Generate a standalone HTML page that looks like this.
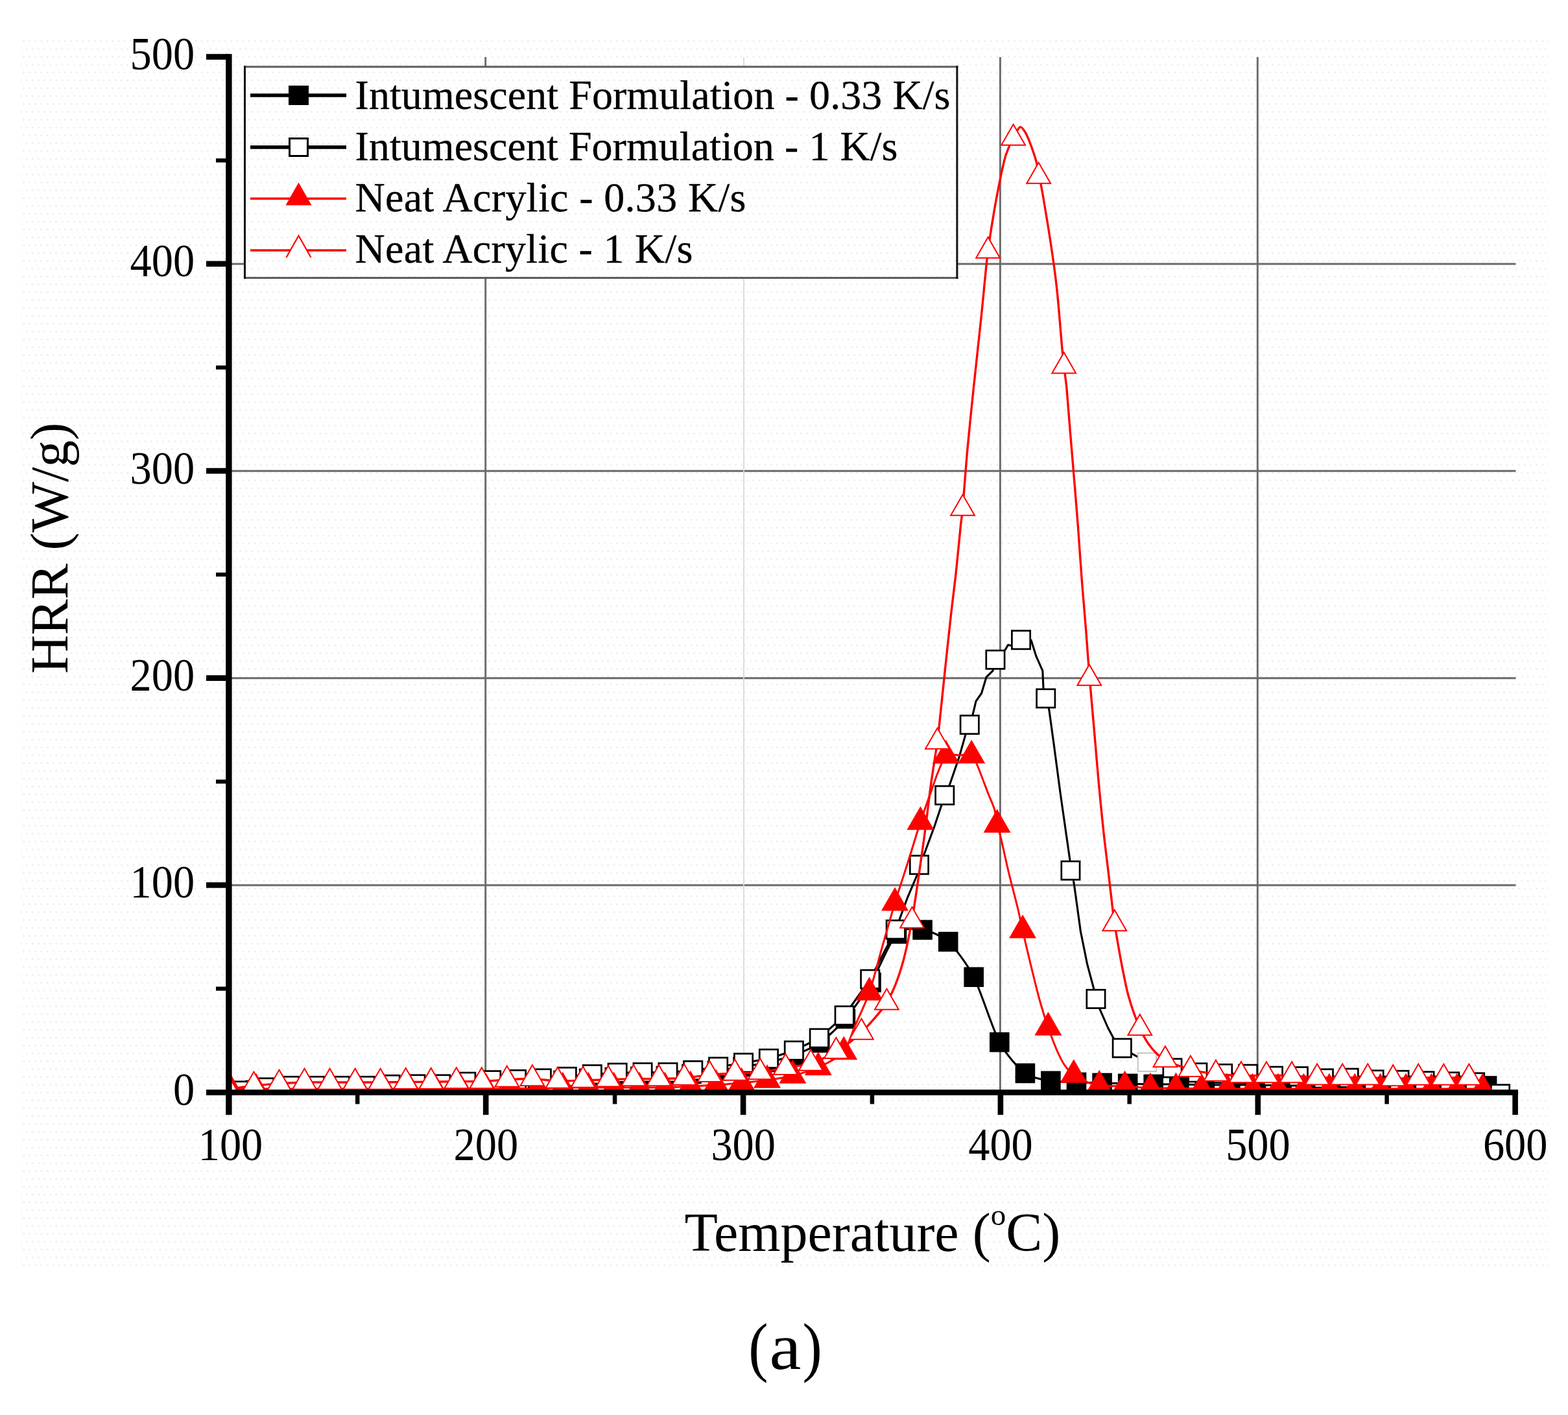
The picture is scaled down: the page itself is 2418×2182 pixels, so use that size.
<!DOCTYPE html>
<html lang="en"><head><meta charset="utf-8"><title>HRR vs Temperature (a)</title>
<style>html,body{margin:0;padding:0;background:#fff}body{width:2418px;height:2182px;overflow:hidden}svg{display:block}text{font-family:"Liberation Serif","DejaVu Serif",serif;fill:#000}</style></head><body>
<svg xmlns="http://www.w3.org/2000/svg" width="2418" height="2182" viewBox="0 0 2418 2182">
<defs>
<pattern id="dots" x="35" y="62" width="9.15" height="24.2" patternUnits="userSpaceOnUse"><rect x="0" y="0" width="3" height="3" fill="#f6efef"/><rect x="4.6" y="12.1" width="3" height="3" fill="#f6efef"/><rect x="2.2" y="6" width="3" height="3" fill="#f6fefe"/><rect x="6.8" y="18.1" width="3" height="3" fill="#f6fefe"/></pattern>
<clipPath id="plot"><rect x="349.5" y="60" width="1992" height="1625"/></clipPath>
</defs>
<rect x="0" y="0" width="2418" height="2182" fill="#ffffff"/>
<rect x="32" y="62" width="2356" height="1892" fill="url(#dots)"/>
<g stroke="#6a6a6a" stroke-width="2.9" fill="none">
<line x1="353" y1="1365" x2="2337.5" y2="1365"/>
<line x1="353" y1="1045.7" x2="2337.5" y2="1045.7"/>
<line x1="353" y1="726.3" x2="2337.5" y2="726.3"/>
<line x1="353" y1="407" x2="2337.5" y2="407"/>
<line x1="748.7" y1="88" x2="748.7" y2="1684"/>
<line x1="1542.4" y1="88" x2="1542.4" y2="1684"/>
<line x1="1939.3" y1="88" x2="1939.3" y2="1684"/>
</g>
<line x1="1147" y1="88" x2="1147" y2="1684" stroke="#d9d9e0" stroke-width="1.8"/>
<g clip-path="url(#plot)">
<g id="s1">
<path d="M354.2 1684C359.5 1683.6 383.2 1681.7 393.8 1681C404.3 1680.3 422.8 1679.3 433.3 1679C443.9 1678.7 462.4 1679 472.9 1679C483.5 1679 501.9 1679 512.5 1679C523 1679 541.5 1679.1 552 1679C562.6 1678.9 581.1 1678.3 591.6 1678C602.2 1677.7 620.6 1677.1 631.2 1677C641.7 1676.9 660.2 1677.3 670.8 1677C681.3 1676.7 699.8 1675.5 710.3 1675C720.9 1674.5 739.3 1673.5 749.9 1673C760.5 1672.5 778.9 1671.5 789.5 1671C800 1670.5 818.5 1669.7 829 1669C839.6 1668.3 858.1 1666.8 868.6 1666C879.2 1665.2 897.6 1663.7 908.2 1663C918.7 1662.3 937.2 1661.4 947.8 1661C958.3 1660.6 976.8 1660.3 987.3 1660C997.9 1659.7 1016.3 1659.5 1026.9 1659C1037.4 1658.5 1055.9 1657.1 1066.5 1656C1077 1654.9 1095.5 1652.5 1106 1651C1116.6 1649.5 1135 1646.7 1145.6 1645C1156.2 1643.3 1174.6 1640.4 1185.2 1638C1195.7 1635.6 1214.2 1631 1224.7 1627C1235.3 1623 1253.8 1615.5 1264.3 1608C1274.9 1600.5 1293.3 1583.4 1303.9 1571C1314.4 1558.6 1332.9 1532.5 1343.5 1515C1354 1497.5 1372.5 1450.8 1383 1440C1393.6 1429.2 1412 1432.3 1422.6 1433.9C1433.1 1435.5 1451.6 1442.5 1462.2 1452.2C1472.7 1461.9 1491.2 1486 1501.7 1506.7C1512.3 1527.4 1530.7 1587.3 1541.3 1607.1C1551.9 1626.9 1570.3 1647 1580.9 1655C1591.4 1663 1609.9 1665 1620.4 1666.9C1631 1668.8 1649.5 1668.6 1660 1669C1670.6 1669.4 1689 1669.7 1699.6 1670C1710.1 1670.3 1728.6 1670.7 1739.2 1671C1749.7 1671.3 1768.2 1671.9 1778.7 1672C1789.3 1672.1 1807.7 1671.9 1818.3 1672C1828.8 1672.1 1847.3 1672.9 1857.9 1673C1868.4 1673.1 1886.9 1673 1897.4 1673C1908 1673 1926.4 1672.9 1937 1673C1947.6 1673.1 1966 1673.9 1976.6 1674C1987.1 1674.1 2005.6 1674 2016.1 1674C2026.7 1674 2045.2 1674 2055.7 1674C2066.3 1674 2084.7 1674 2095.3 1674C2105.8 1674 2124.3 1674 2134.8 1674C2145.4 1674 2163.9 1674 2174.4 1674C2185 1674 2203.4 1674 2214 1674C2224.5 1674 2243 1673.9 2253.6 1674C2264.1 1674.1 2287.9 1674.4 2293.1 1674.5" fill="none" stroke="#000" stroke-width="3.1" stroke-linejoin="round"/>
<g fill="#000"><rect x="338.9" y="1668.7" width="30.6" height="30.6"/><rect x="378.5" y="1665.7" width="30.6" height="30.6"/><rect x="418" y="1663.7" width="30.6" height="30.6"/><rect x="457.6" y="1663.7" width="30.6" height="30.6"/><rect x="497.2" y="1663.7" width="30.6" height="30.6"/><rect x="536.8" y="1663.7" width="30.6" height="30.6"/><rect x="576.3" y="1662.7" width="30.6" height="30.6"/><rect x="615.9" y="1661.7" width="30.6" height="30.6"/><rect x="655.5" y="1661.7" width="30.6" height="30.6"/><rect x="695" y="1659.7" width="30.6" height="30.6"/><rect x="734.6" y="1657.7" width="30.6" height="30.6"/><rect x="774.2" y="1655.7" width="30.6" height="30.6"/><rect x="813.7" y="1653.7" width="30.6" height="30.6"/><rect x="853.3" y="1650.7" width="30.6" height="30.6"/><rect x="892.9" y="1647.7" width="30.6" height="30.6"/><rect x="932.5" y="1645.7" width="30.6" height="30.6"/><rect x="972" y="1644.7" width="30.6" height="30.6"/><rect x="1011.6" y="1643.7" width="30.6" height="30.6"/><rect x="1051.2" y="1640.7" width="30.6" height="30.6"/><rect x="1090.7" y="1635.7" width="30.6" height="30.6"/><rect x="1130.3" y="1629.7" width="30.6" height="30.6"/><rect x="1169.9" y="1622.7" width="30.6" height="30.6"/><rect x="1209.4" y="1611.7" width="30.6" height="30.6"/><rect x="1249" y="1592.7" width="30.6" height="30.6"/><rect x="1288.6" y="1555.7" width="30.6" height="30.6"/><rect x="1328.2" y="1499.7" width="30.6" height="30.6"/><rect x="1367.7" y="1424.7" width="30.6" height="30.6"/><rect x="1407.3" y="1418.6" width="30.6" height="30.6"/><rect x="1446.9" y="1436.9" width="30.6" height="30.6"/><rect x="1486.4" y="1491.4" width="30.6" height="30.6"/><rect x="1526" y="1591.8" width="30.6" height="30.6"/><rect x="1565.6" y="1639.7" width="30.6" height="30.6"/><rect x="1605.1" y="1651.6" width="30.6" height="30.6"/><rect x="1644.7" y="1653.7" width="30.6" height="30.6"/><rect x="1684.3" y="1654.7" width="30.6" height="30.6"/><rect x="1723.9" y="1655.7" width="30.6" height="30.6"/><rect x="1763.4" y="1656.7" width="30.6" height="30.6"/><rect x="1803" y="1656.7" width="30.6" height="30.6"/><rect x="1842.6" y="1657.7" width="30.6" height="30.6"/><rect x="1882.1" y="1657.7" width="30.6" height="30.6"/><rect x="1921.7" y="1657.7" width="30.6" height="30.6"/><rect x="1961.3" y="1658.7" width="30.6" height="30.6"/><rect x="2000.8" y="1658.7" width="30.6" height="30.6"/><rect x="2040.4" y="1658.7" width="30.6" height="30.6"/><rect x="2080" y="1658.7" width="30.6" height="30.6"/><rect x="2119.5" y="1658.7" width="30.6" height="30.6"/><rect x="2159.1" y="1658.7" width="30.6" height="30.6"/><rect x="2198.7" y="1658.7" width="30.6" height="30.6"/><rect x="2238.3" y="1658.7" width="30.6" height="30.6"/><rect x="2277.8" y="1659.2" width="30.6" height="30.6"/></g>
</g>
<g id="s2">
<path d="M368.6 1682L407.5 1677L446.4 1674.5L485.3 1674.5L524.2 1674.5L563.1 1674.5L602 1672.5L640.9 1672L679.8 1672L718.7 1668.3L757.6 1665.8L796.5 1664.6L835.4 1663L874.3 1660.5L913.2 1656.8L952.1 1654.3L991 1653.8L1029.9 1653.8L1068.8 1650.6L1107.7 1645.2L1146.6 1639L1185.5 1632.5L1224.4 1620.1L1263.3 1601L1302.2 1566L1341.8 1510.1L1381.3 1433.5L1399.6 1383.8L1414.4 1349L1417.4 1333.7L1424.4 1319.3L1441.7 1272.2L1451.6 1242.5L1456.8 1226.4L1464 1211.5L1478.9 1168.1L1488.8 1133.4L1495.3 1117.6L1500 1102.4L1505 1081.4L1513.6 1069L1521 1044.2L1531 1034.3L1535 1017.2L1549.5 1003L1554.5 994.6L1562 996L1574.6 986.7L1590 987L1597.9 1012L1607.8 1034.3L1609 1061.5L1612.8 1076.9L1617.7 1093.8L1625.2 1148.3L1635.1 1222.7L1645 1292L1650 1326.8L1656.5 1364.5L1666.4 1436.3L1676.4 1485.9L1686.3 1523L1690 1540.5L1696.2 1556.6L1708.6 1585L1717.3 1601.2L1730.3 1616.2L1769 1638L1807.9 1647L1846.8 1654L1885.7 1655.6L1924.6 1656.3L1963.5 1659.3L2002.4 1659.8L2041.3 1663L2080.2 1662.3L2119.1 1665L2158 1665.5L2196.9 1667L2235.8 1668L2274.7 1669L2313.6 1687" fill="none" stroke="#000" stroke-width="3.1" stroke-linejoin="round"/>
<g fill="#fff" stroke="#000" stroke-width="2.7"><rect x="354.5" y="1667.8" width="28.3" height="28.3"/><rect x="393.4" y="1662.8" width="28.3" height="28.3"/><rect x="432.3" y="1660.3" width="28.3" height="28.3"/><rect x="471.2" y="1660.3" width="28.3" height="28.3"/><rect x="510.1" y="1660.3" width="28.3" height="28.3"/><rect x="549" y="1660.3" width="28.3" height="28.3"/><rect x="587.9" y="1658.3" width="28.3" height="28.3"/><rect x="626.8" y="1657.8" width="28.3" height="28.3"/><rect x="665.6" y="1657.8" width="28.3" height="28.3"/><rect x="704.6" y="1654.1" width="28.3" height="28.3"/><rect x="743.5" y="1651.6" width="28.3" height="28.3"/><rect x="782.4" y="1650.4" width="28.3" height="28.3"/><rect x="821.2" y="1648.8" width="28.3" height="28.3"/><rect x="860.1" y="1646.3" width="28.3" height="28.3"/><rect x="899.1" y="1642.6" width="28.3" height="28.3"/><rect x="938" y="1640.1" width="28.3" height="28.3"/><rect x="976.9" y="1639.6" width="28.3" height="28.3"/><rect x="1015.8" y="1639.6" width="28.3" height="28.3"/><rect x="1054.6" y="1636.4" width="28.3" height="28.3"/><rect x="1093.5" y="1631" width="28.3" height="28.3"/><rect x="1132.4" y="1624.8" width="28.3" height="28.3"/><rect x="1171.3" y="1618.3" width="28.3" height="28.3"/><rect x="1210.2" y="1605.9" width="28.3" height="28.3"/><rect x="1249.1" y="1586.8" width="28.3" height="28.3"/><rect x="1288" y="1551.8" width="28.3" height="28.3"/><rect x="1327.6" y="1495.9" width="28.3" height="28.3"/><rect x="1367.1" y="1419.3" width="28.3" height="28.3"/><rect x="1403.3" y="1319.5" width="28.3" height="28.3"/><rect x="1442.6" y="1212.2" width="28.3" height="28.3"/><rect x="1481.1" y="1103.4" width="28.3" height="28.3"/><rect x="1520.8" y="1003.1" width="28.3" height="28.3"/><rect x="1560.4" y="972.6" width="28.3" height="28.3"/><rect x="1598.6" y="1062.8" width="28.3" height="28.3"/><rect x="1636.8" y="1328.2" width="28.3" height="28.3"/><rect x="1675.8" y="1526.3" width="28.3" height="28.3"/><rect x="1716.1" y="1602" width="28.3" height="28.3"/><rect x="1754.8" y="1623.8" width="28.3" height="28.3" stroke="#c4c4c4" stroke-width="2"/><rect x="1793.8" y="1632.8" width="28.3" height="28.3"/><rect x="1832.7" y="1639.8" width="28.3" height="28.3"/><rect x="1871.5" y="1641.4" width="28.3" height="28.3"/><rect x="1910.4" y="1642.1" width="28.3" height="28.3"/><rect x="1949.3" y="1645.1" width="28.3" height="28.3"/><rect x="1988.2" y="1645.6" width="28.3" height="28.3"/><rect x="2027.2" y="1648.8" width="28.3" height="28.3"/><rect x="2066" y="1648.1" width="28.3" height="28.3"/><rect x="2104.9" y="1650.8" width="28.3" height="28.3"/><rect x="2143.8" y="1651.3" width="28.3" height="28.3"/><rect x="2182.8" y="1652.8" width="28.3" height="28.3"/><rect x="2221.6" y="1653.8" width="28.3" height="28.3"/><rect x="2260.5" y="1654.8" width="28.3" height="28.3"/><rect x="2299.4" y="1672.8" width="28.3" height="28.3"/></g>
</g>
<g id="s3">
<path d="M355.6 1680C360.9 1679.9 384.5 1679.1 395 1679C405.5 1678.9 423.9 1679 434.4 1679C444.9 1679 463.3 1679 473.8 1679C484.3 1679 502.7 1679 513.2 1679C523.7 1679 542.1 1679 552.6 1679C563.1 1679 581.5 1679 592 1679C602.5 1679 620.9 1679 631.4 1679C641.9 1679 660.3 1679 670.8 1679C681.3 1679 699.7 1679 710.2 1679C720.7 1679 739.1 1679 749.6 1679C760.1 1679 778.5 1679 789 1679C799.5 1679 817.9 1679.3 828.4 1679C838.9 1678.7 857.3 1677.3 867.8 1677C878.3 1676.7 896.7 1677 907.2 1677C917.7 1677 936.1 1677 946.6 1677C957.1 1677 975.5 1677 986 1677C996.5 1677 1014.9 1677.3 1025.4 1677C1035.9 1676.7 1054.3 1675.5 1064.8 1675C1075.3 1674.5 1093.7 1673.7 1104.2 1673C1114.7 1672.3 1133.1 1671 1143.6 1670C1154.1 1669 1172.5 1667.1 1183 1665.6C1193.5 1664.1 1211.9 1661.2 1222.4 1658.6C1232.9 1656 1251.3 1650.9 1261.8 1646C1272.3 1641.1 1293.7 1630.4 1301.2 1622C1308.7 1613.6 1312.7 1595.2 1318 1583C1323.3 1570.8 1335 1546.6 1340.6 1530.5C1346.2 1514.4 1354.7 1480.4 1360 1462C1365.3 1443.6 1374.7 1410 1380 1392.4C1385.3 1374.8 1394.7 1346.7 1400 1330C1405.3 1313.3 1414.6 1282.2 1419.4 1267.5C1424.2 1252.8 1432.5 1230.1 1436 1220C1439.5 1209.9 1443 1199.3 1446 1192C1449 1184.7 1454.5 1169 1458.8 1165.3C1463.1 1161.6 1472.7 1164.5 1478 1164.5C1483.3 1164.5 1494.4 1163.2 1498.2 1165C1502 1166.8 1502.8 1170.3 1506.2 1178C1509.6 1185.7 1519.9 1213.4 1523.5 1222.7C1527.1 1232 1531.5 1241 1533.4 1247.5C1535.3 1254 1536.3 1265.8 1537.6 1271.7C1538.9 1277.6 1541 1282 1543.4 1292C1545.8 1302 1552.3 1332.2 1555.8 1346.6C1559.3 1361 1566.6 1388.3 1569.4 1400C1572.2 1411.7 1574.3 1422.5 1577 1434.5C1579.7 1446.5 1586.4 1475.3 1590 1490C1593.6 1504.7 1600.5 1532.4 1604 1545C1607.5 1557.6 1612.9 1574.5 1616.4 1584.5C1619.9 1594.5 1626.6 1612.2 1630 1620C1633.4 1627.8 1638.6 1638 1642 1643C1645.4 1648 1651.4 1654.3 1655.8 1657.6C1660.2 1660.9 1669.7 1665.8 1675 1668C1680.3 1670.2 1687.3 1673.1 1695.2 1674C1703.1 1674.9 1724.1 1674.5 1734.6 1675C1745.1 1675.5 1763.5 1677.6 1774 1678C1784.5 1678.4 1802.9 1677.9 1813.4 1678C1823.9 1678.1 1842.3 1678.9 1852.8 1679C1863.3 1679.1 1881.7 1679 1892.2 1679C1902.7 1679 1921.1 1679 1931.6 1679C1942.1 1679 1960.5 1679 1971 1679C1981.5 1679 1999.9 1679 2010.4 1679C2020.9 1679 2039.3 1679 2049.8 1679C2060.3 1679 2078.7 1679 2089.2 1679C2099.7 1679 2118.1 1679 2128.6 1679C2139.1 1679 2157.5 1679 2168 1679C2178.5 1679 2196.9 1679 2207.4 1679C2217.9 1679 2236.3 1679 2246.8 1679C2257.3 1679 2280.9 1679 2286.2 1679" fill="none" stroke="#f00" stroke-width="3" stroke-linejoin="round"/>
<g fill="#f00"><path d="M355.6 1655.7L376.6 1692.2L334.6 1692.2Z"/><path d="M395 1654.7L416 1691.2L374 1691.2Z"/><path d="M434.4 1654.7L455.4 1691.2L413.4 1691.2Z"/><path d="M473.8 1654.7L494.8 1691.2L452.8 1691.2Z"/><path d="M513.2 1654.7L534.2 1691.2L492.2 1691.2Z"/><path d="M552.6 1654.7L573.6 1691.2L531.6 1691.2Z"/><path d="M592 1654.7L613 1691.2L571 1691.2Z"/><path d="M631.4 1654.7L652.4 1691.2L610.4 1691.2Z"/><path d="M670.8 1654.7L691.8 1691.2L649.8 1691.2Z"/><path d="M710.2 1654.7L731.2 1691.2L689.2 1691.2Z"/><path d="M749.6 1654.7L770.6 1691.2L728.6 1691.2Z"/><path d="M789 1654.7L810 1691.2L768 1691.2Z"/><path d="M828.4 1654.7L849.4 1691.2L807.4 1691.2Z"/><path d="M867.8 1652.7L888.8 1689.2L846.8 1689.2Z"/><path d="M907.2 1652.7L928.2 1689.2L886.2 1689.2Z"/><path d="M946.6 1652.7L967.6 1689.2L925.6 1689.2Z"/><path d="M986 1652.7L1007 1689.2L965 1689.2Z"/><path d="M1025.4 1652.7L1046.4 1689.2L1004.4 1689.2Z"/><path d="M1064.8 1650.7L1085.8 1687.2L1043.8 1687.2Z"/><path d="M1104.2 1648.7L1125.2 1685.2L1083.2 1685.2Z"/><path d="M1143.6 1645.7L1164.6 1682.2L1122.6 1682.2Z"/><path d="M1183 1641.3L1204 1677.8L1162 1677.8Z"/><path d="M1222.4 1634.3L1243.4 1670.8L1201.4 1670.8Z"/><path d="M1261.8 1621.7L1282.8 1658.2L1240.8 1658.2Z"/><path d="M1301.2 1597.7L1322.2 1634.2L1280.2 1634.2Z"/><path d="M1340.6 1506.2L1361.6 1542.7L1319.6 1542.7Z"/><path d="M1380 1368.1L1401 1404.6L1359 1404.6Z"/><path d="M1419.4 1243.2L1440.4 1279.7L1398.4 1279.7Z"/><path d="M1458.8 1141L1479.8 1177.5L1437.8 1177.5Z"/><path d="M1498.2 1140.7L1519.2 1177.2L1477.2 1177.2Z"/><path d="M1537.6 1247.4L1558.6 1283.9L1516.6 1283.9Z"/><path d="M1577 1410.2L1598 1446.7L1556 1446.7Z"/><path d="M1616.4 1560.2L1637.4 1596.7L1595.4 1596.7Z"/><path d="M1655.8 1633.3L1676.8 1669.8L1634.8 1669.8Z"/><path d="M1695.2 1649.7L1716.2 1686.2L1674.2 1686.2Z"/><path d="M1734.6 1650.7L1755.6 1687.2L1713.6 1687.2Z"/><path d="M1774 1653.7L1795 1690.2L1753 1690.2Z"/><path d="M1813.4 1653.7L1834.4 1690.2L1792.4 1690.2Z"/><path d="M1852.8 1654.7L1873.8 1691.2L1831.8 1691.2Z"/><path d="M1892.2 1654.7L1913.2 1691.2L1871.2 1691.2Z"/><path d="M1931.6 1654.7L1952.6 1691.2L1910.6 1691.2Z"/><path d="M1971 1654.7L1992 1691.2L1950 1691.2Z"/><path d="M2010.4 1654.7L2031.4 1691.2L1989.4 1691.2Z"/><path d="M2049.8 1654.7L2070.8 1691.2L2028.8 1691.2Z"/><path d="M2089.2 1654.7L2110.2 1691.2L2068.2 1691.2Z"/><path d="M2128.6 1654.7L2149.6 1691.2L2107.6 1691.2Z"/><path d="M2168 1654.7L2189 1691.2L2147 1691.2Z"/><path d="M2207.4 1654.7L2228.4 1691.2L2186.4 1691.2Z"/><path d="M2246.8 1654.7L2267.8 1691.2L2225.8 1691.2Z"/><path d="M2286.2 1654.7L2307.2 1691.2L2265.2 1691.2Z"/></g>
</g>
<g id="s4">
<path d="M352.4 1680C357.6 1679.2 381 1675.2 391.4 1674C401.9 1672.8 420.1 1671.7 430.5 1671C440.9 1670.3 459.1 1669.3 469.5 1669C479.9 1668.7 498.1 1669 508.6 1669C519 1669 537.2 1669 547.6 1669C558 1669 576.2 1669.1 586.6 1669C597.1 1668.9 615.3 1668.5 625.7 1668.4C636.1 1668.3 654.3 1668.5 664.7 1668.4C675.1 1668.3 693.3 1667.7 703.8 1667.6C714.2 1667.5 732.4 1667.9 742.8 1667.6C753.2 1667.3 771.4 1665.5 781.8 1665C792.3 1664.5 810.5 1663.3 820.9 1663.6C831.3 1663.9 849.5 1666.7 859.9 1667C870.3 1667.3 888.5 1666.3 899 1666C909.4 1665.7 927.6 1665.1 938 1664.8C948.4 1664.5 966.6 1663.8 977 1663.6C987.5 1663.4 1005.7 1663.8 1016.1 1663.6C1026.5 1663.4 1044.7 1663.1 1055.1 1662.3C1065.5 1661.5 1083.7 1658.4 1094.2 1657.4C1104.6 1656.4 1122.8 1655.5 1133.2 1655C1143.6 1654.5 1161.8 1654.8 1172.2 1653.6C1182.7 1652.4 1200.9 1648 1211.3 1646.2C1221.7 1644.4 1239.9 1643.3 1250.3 1640C1260.7 1636.7 1278.9 1627.8 1289.4 1621.4C1299.8 1615 1318 1602.1 1328.4 1592C1338.8 1581.9 1359.2 1559.3 1367.4 1546C1375.6 1532.7 1384.8 1509.1 1390 1492C1395.2 1474.9 1401.9 1444 1406.5 1418C1411.1 1392 1420.5 1324.7 1424.4 1297C1428.3 1269.3 1432.7 1230.4 1435.5 1210C1438.3 1189.6 1443.7 1157.2 1445.5 1144C1447.3 1130.8 1447.7 1124.9 1449.2 1111C1450.7 1097.1 1454.3 1061.7 1456.6 1040C1458.9 1018.3 1464.2 968.7 1466.5 948C1468.8 927.3 1472 903.3 1474 885C1476 866.7 1480 824.5 1481.4 811C1482.8 797.5 1483.3 798.9 1484.6 784C1485.9 769.1 1489.1 723.5 1491.3 699C1493.5 674.5 1498.2 628.6 1501.2 600C1504.2 571.4 1510.8 511.5 1513.6 484.6C1516.4 457.7 1519.7 419.5 1522.3 398C1524.9 376.5 1529.9 343.4 1533.4 323.5C1536.9 303.6 1545.3 261.9 1548.3 249C1551.3 236.1 1553.9 231.9 1555.8 227C1557.7 222.1 1560.3 216.1 1562.6 212C1564.9 207.9 1570.5 197.1 1573 196C1575.5 194.9 1579 200.9 1581 204C1583 207.1 1585.7 213.4 1588 219.4C1590.3 225.4 1596.2 242.5 1598 249C1599.8 255.5 1600.4 261.4 1601.7 268C1603 274.6 1605.4 284.7 1607.8 298.7C1610.2 312.7 1617 353.2 1620 373C1623 392.8 1627.7 426 1630 447.5C1632.3 469 1636.2 518.3 1637.6 534C1639 549.7 1639.7 556.2 1640.7 565C1641.7 573.8 1643.8 587.1 1645 600C1646.2 612.9 1648.6 645.1 1650 662C1651.4 678.9 1653.8 706.6 1655.4 726.4C1657 746.2 1660.6 787.9 1662.3 810.7C1664 833.5 1666.8 876 1668.5 897.5C1670.2 919 1673.2 952.8 1674.7 971.8C1676.2 990.8 1678.1 1019.8 1679.8 1040C1681.5 1060.2 1685.1 1100.8 1687.1 1123.5C1689.1 1146.2 1692.6 1188.8 1694.6 1210.3C1696.6 1231.8 1700 1266.5 1702 1284.7C1704 1302.9 1707.6 1331.2 1709.4 1346.6C1711.2 1362 1714.3 1389.6 1715.6 1400C1716.9 1410.4 1717.1 1414.2 1718.8 1424.6C1720.5 1435 1725.2 1463.3 1728 1478C1730.8 1492.7 1736 1520.7 1740 1535C1744 1549.3 1753.1 1574.8 1757.8 1585.5C1762.5 1596.2 1769.8 1608.5 1775 1615C1780.2 1621.5 1788.8 1630 1796.9 1634.6C1805 1639.2 1825.5 1646.5 1835.9 1649.4C1846.3 1652.3 1864.5 1654.8 1875 1656C1885.4 1657.2 1903.6 1658.3 1914 1658.6C1924.4 1658.9 1942.6 1658.6 1953 1658.6C1963.5 1658.6 1981.7 1658.2 1992.1 1658.6C2002.5 1659 2020.7 1661.4 2031.1 1661.8C2041.5 1662.2 2059.7 1661.8 2070.2 1661.8C2080.6 1661.8 2098.8 1661.6 2109.2 1661.8C2119.6 1662 2137.8 1663.6 2148.2 1663.6C2158.7 1663.6 2176.9 1662.2 2187.3 1662C2197.7 1661.8 2215.9 1662 2226.3 1662C2236.7 1662 2260.2 1662 2265.4 1662" fill="none" stroke="#f00" stroke-width="3.4" stroke-linejoin="round"/>
<g fill="#fff" stroke="#f00" stroke-width="2" stroke-linejoin="miter"><path d="M352.4 1658.7L370.8 1690.7L334 1690.7Z"/><path d="M391.4 1652.7L409.8 1684.7L373 1684.7Z"/><path d="M430.5 1649.7L448.9 1681.7L412.1 1681.7Z"/><path d="M469.5 1647.7L487.9 1679.7L451.1 1679.7Z"/><path d="M508.6 1647.7L527 1679.7L490.2 1679.7Z"/><path d="M547.6 1647.7L566 1679.7L529.2 1679.7Z"/><path d="M586.6 1647.7L605 1679.7L568.2 1679.7Z"/><path d="M625.7 1647.1L644.1 1679.1L607.3 1679.1Z"/><path d="M664.7 1647.1L683.1 1679.1L646.3 1679.1Z"/><path d="M703.8 1646.3L722.2 1678.3L685.4 1678.3Z"/><path d="M742.8 1646.3L761.2 1678.3L724.4 1678.3Z"/><path d="M781.8 1643.7L800.2 1675.7L763.4 1675.7Z"/><path d="M820.9 1642.3L839.3 1674.3L802.5 1674.3Z"/><path d="M859.9 1645.7L878.3 1677.7L841.5 1677.7Z"/><path d="M899 1644.7L917.4 1676.7L880.6 1676.7Z"/><path d="M938 1643.5L956.4 1675.5L919.6 1675.5Z"/><path d="M977 1642.3L995.4 1674.3L958.6 1674.3Z"/><path d="M1016.1 1642.3L1034.5 1674.3L997.7 1674.3Z"/><path d="M1055.1 1641L1073.5 1673L1036.7 1673Z"/><path d="M1094.2 1636.1L1112.6 1668.1L1075.8 1668.1Z"/><path d="M1133.2 1633.7L1151.6 1665.7L1114.8 1665.7Z"/><path d="M1172.2 1632.3L1190.6 1664.3L1153.8 1664.3Z"/><path d="M1211.3 1624.9L1229.7 1656.9L1192.9 1656.9Z"/><path d="M1250.3 1618.7L1268.7 1650.7L1231.9 1650.7Z"/><path d="M1289.4 1600.1L1307.8 1632.1L1271 1632.1Z"/><path d="M1328.4 1570.7L1346.8 1602.7L1310 1602.7Z"/><path d="M1367.4 1524.7L1385.8 1556.7L1349 1556.7Z"/><path d="M1406.5 1398.7L1424.9 1430.7L1388.1 1430.7Z"/><path d="M1445.5 1122.7L1463.9 1154.7L1427.1 1154.7Z"/><path d="M1484.6 762.7L1503 794.7L1466.2 794.7Z"/><path d="M1523.6 365.7L1542 397.7L1505.2 397.7Z"/><path d="M1562.6 191.7L1581 223.7L1544.2 223.7Z"/><path d="M1601.7 250.7L1620.1 282.7L1583.3 282.7Z"/><path d="M1640.7 543.4L1659.1 575.4L1622.3 575.4Z"/><path d="M1679.8 1024.7L1698.2 1056.7L1661.4 1056.7Z"/><path d="M1718.8 1403.3L1737.2 1435.3L1700.4 1435.3Z"/><path d="M1757.8 1564.2L1776.2 1596.2L1739.4 1596.2Z"/><path d="M1796.9 1613.3L1815.3 1645.3L1778.5 1645.3Z"/><path d="M1835.9 1628.1L1854.3 1660.1L1817.5 1660.1Z"/><path d="M1875 1634.7L1893.4 1666.7L1856.6 1666.7Z"/><path d="M1914 1637.3L1932.4 1669.3L1895.6 1669.3Z"/><path d="M1953 1637.3L1971.4 1669.3L1934.6 1669.3Z"/><path d="M1992.1 1637.3L2010.5 1669.3L1973.7 1669.3Z"/><path d="M2031.1 1640.5L2049.5 1672.5L2012.7 1672.5Z"/><path d="M2070.2 1640.5L2088.6 1672.5L2051.8 1672.5Z"/><path d="M2109.2 1640.5L2127.6 1672.5L2090.8 1672.5Z"/><path d="M2148.2 1642.3L2166.6 1674.3L2129.8 1674.3Z"/><path d="M2187.3 1640.7L2205.7 1672.7L2168.9 1672.7Z"/><path d="M2226.3 1640.7L2244.7 1672.7L2207.9 1672.7Z"/><path d="M2265.4 1640.7L2283.8 1672.7L2247 1672.7Z"/></g>
</g>
</g>
<g stroke="#000" fill="none" stroke-linecap="butt">
<line x1="352.9" y1="83.2" x2="352.9" y2="1719.2" stroke-width="9.4"/>
<line x1="318" y1="1684.65" x2="2341" y2="1684.65" stroke-width="8.9"/>
<line x1="318" y1="1364.9" x2="352.2" y2="1364.9" stroke-width="8.8"/>
<line x1="318" y1="1045.6" x2="352.2" y2="1045.6" stroke-width="8.8"/>
<line x1="318" y1="726.2" x2="352.2" y2="726.2" stroke-width="8.8"/>
<line x1="318" y1="406.9" x2="352.2" y2="406.9" stroke-width="8.8"/>
<line x1="318" y1="87.6" x2="352.2" y2="87.6" stroke-width="8.8"/>
<line x1="333" y1="1524.6" x2="352.2" y2="1524.6" stroke-width="6.2"/>
<line x1="333" y1="1205.3" x2="352.2" y2="1205.3" stroke-width="6.2"/>
<line x1="333" y1="886" x2="352.2" y2="886" stroke-width="6.2"/>
<line x1="333" y1="566.7" x2="352.2" y2="566.7" stroke-width="6.2"/>
<line x1="333" y1="247.4" x2="352.2" y2="247.4" stroke-width="6.2"/>
<line x1="749.2" y1="1684.3" x2="749.2" y2="1719.2" stroke-width="8.6"/>
<line x1="1146.1" y1="1684.3" x2="1146.1" y2="1719.2" stroke-width="8.6"/>
<line x1="1542.9" y1="1684.3" x2="1542.9" y2="1719.2" stroke-width="8.6"/>
<line x1="1939.8" y1="1684.3" x2="1939.8" y2="1719.2" stroke-width="8.6"/>
<line x1="2336.6" y1="1684.3" x2="2336.6" y2="1719.2" stroke-width="8.6"/>
<line x1="551.2" y1="1684.3" x2="551.2" y2="1702.5" stroke-width="6.5"/>
<line x1="948.1" y1="1684.3" x2="948.1" y2="1702.5" stroke-width="6.5"/>
<line x1="1344.9" y1="1684.3" x2="1344.9" y2="1702.5" stroke-width="6.5"/>
<line x1="1741.7" y1="1684.3" x2="1741.7" y2="1702.5" stroke-width="6.5"/>
<line x1="2138.6" y1="1684.3" x2="2138.6" y2="1702.5" stroke-width="6.5"/>
</g>
<g font-size="71" text-anchor="middle">
<text transform="translate(355.5 1789.2) scale(0.935 1)">100</text>
<text transform="translate(749.3 1789.2) scale(0.935 1)">200</text>
<text transform="translate(1146.2 1789.2) scale(0.935 1)">300</text>
<text transform="translate(1543 1789.2) scale(0.935 1)">400</text>
<text transform="translate(1939.9 1789.2) scale(0.935 1)">500</text>
<text transform="translate(2336.7 1789.2) scale(0.935 1)">600</text>
</g>
<g font-size="71" text-anchor="end">
<text transform="translate(300.1 1703.5) scale(0.935 1)">0</text>
<text transform="translate(300.1 1384.2) scale(0.935 1)">100</text>
<text transform="translate(300.1 1064.9) scale(0.935 1)">200</text>
<text transform="translate(300.1 745.5) scale(0.935 1)">300</text>
<text transform="translate(300.1 426.2) scale(0.935 1)">400</text>
<text transform="translate(300.1 106.9) scale(0.935 1)">500</text>
</g>
<text x="1345.3" y="1929" font-size="84" text-anchor="middle">Temperature (<tspan font-size="47" dy="-40.5">o</tspan><tspan dy="40.5">C)</tspan></text>
<text transform="translate(103.5 845.2) rotate(-90)" font-size="82.5" text-anchor="middle">HRR (W/g)</text>
<g id="legend">
<rect x="377.5" y="103" width="1098.4" height="325.5" fill="#fff" stroke="none"/>
<rect x="377.5" y="103" width="1098.4" height="325.5" fill="url(#dots)" stroke="none"/>
<path d="M376 103H1477.4M376 428.5H1477.4" stroke="#5c5c5c" stroke-width="3" fill="none"/>
<path d="M377.5 101.5V430M1475.9 101.5V430" stroke="#111" stroke-width="3" fill="none"/>
<line x1="386" y1="147" x2="534" y2="147" stroke="#000" stroke-width="5.4"/>
<rect x="445" y="132" width="31" height="30" fill="#000"/>
<line x1="386" y1="227" x2="534" y2="227" stroke="#000" stroke-width="5.4"/>
<rect x="446.5" y="213.5" width="28" height="27" fill="#fff" stroke="#000" stroke-width="3"/>
<line x1="386" y1="306.3" x2="534" y2="306.3" stroke="#f00" stroke-width="3.4"/>
<g fill="#f00"><path d="M460.5 281.5L480.5 316.5L440.5 316.5Z"/></g>
<line x1="386" y1="386" x2="534" y2="386" stroke="#f00" stroke-width="3.4"/>
<path d="M441.5 397L460.5 363.5L479.5 397Z" fill="#fff"/><path d="M441.5 397L460.5 363.5L479.5 397" fill="none" stroke="#f00" stroke-width="2.2"/>
<text x="547.5" y="167.7" font-size="64" textLength="918" lengthAdjust="spacing" stroke="#000" stroke-width="0.3">Intumescent Formulation - 0.33 K/s</text>
<text x="547.5" y="246.8" font-size="64" textLength="837" lengthAdjust="spacing" stroke="#000" stroke-width="0.3">Intumescent Formulation - 1 K/s</text>
<text x="547.5" y="325.6" font-size="64" textLength="603" lengthAdjust="spacing" stroke="#000" stroke-width="0.3">Neat Acrylic - 0.33 K/s</text>
<text x="547.5" y="405" font-size="64" textLength="521" lengthAdjust="spacing" stroke="#000" stroke-width="0.3">Neat Acrylic - 1 K/s</text>
</g>
<text y="2111" font-size="101"><tspan x="1154.3" textLength="30.3" lengthAdjust="spacingAndGlyphs">(</tspan><tspan x="1186.6" textLength="48.9" lengthAdjust="spacingAndGlyphs">a</tspan><tspan x="1237.4" textLength="30.3" lengthAdjust="spacingAndGlyphs">)</tspan></text>
</svg></body></html>
